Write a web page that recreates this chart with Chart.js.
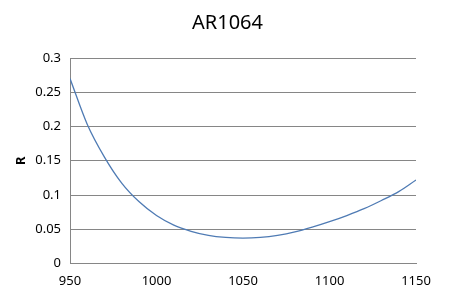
<!DOCTYPE html>
<html>
<head>
<meta charset="utf-8">
<script src="https://cdn.jsdelivr.net/npm/chart.js@4"></script>
<style>
  html, body { margin: 0; padding: 0; background: #ffffff; }
  #wrap { width: 455px; height: 307px; }
</style>
</head>
<body>
<div id="wrap"><canvas id="arChart" width="455" height="307"></canvas></div>
<script>
// Valeurs (longueur d'onde en nm, reflectance R)
const wavelengths = [950, 960, 970, 980, 990, 1000, 1010, 1020, 1030, 1040, 1050,
                     1060, 1070, 1080, 1090, 1100, 1110, 1120, 1130, 1140, 1150];
const reflectance = [0.270, 0.203, 0.155, 0.117, 0.090, 0.070, 0.056, 0.047, 0.041, 0.038, 0.037,
                     0.038, 0.041, 0.046, 0.053, 0.061, 0.070, 0.080, 0.092, 0.105, 0.122];
const xTickValues = [950, 1000, 1050, 1100, 1150];
const xTickLabels = ['950', '1000', '1050', '1100', '1150'];
const yTickValues = [0, 0.05, 0.1, 0.15, 0.2, 0.25, 0.3];
const yTickLabels = ['0', '0.05', '0.1', '0.15', '0.2', '0.25', '0.3'];

const points = wavelengths.map((w, i) => ({ x: w, y: reflectance[i] }));
const gridGray = '#868686';
const fontFamily = "'Noto Sans', 'Open Sans', sans-serif";

const ctx = document.getElementById('arChart').getContext('2d');
const arChart = new Chart(ctx, {
    type: 'line',
    data: {
        datasets: [{
            label: 'R',
            data: points,
            borderColor: '#4f7bb4',
            borderWidth: 1.3,
            pointRadius: 0,
            cubicInterpolationMode: 'monotone',
            fill: false
        }]
    },
    options: {
        responsive: false,
        animation: false,
        layout: { padding: 0 },
        plugins: {
            legend: { display: false },
            tooltip: { enabled: false },
            title: {
                display: true,
                text: 'AR1064',
                color: '#000000',
                font: { family: fontFamily, size: 20, weight: 'normal' },
                padding: { top: 11, bottom: 23 }
            }
        },
        scales: {
            x: {
                type: 'linear',
                min: 950,
                max: 1150,
                afterBuildTicks: scale => { scale.ticks = xTickValues.map(v => ({ value: v })); },
                afterFit: scale => { scale.height = 43.5; },
                grid: { display: false, drawTicks: false },
                border: { display: true, color: gridGray, width: 1 },
                ticks: {
                    color: '#000000',
                    padding: 10,
                    maxRotation: 0,
                    font: { family: fontFamily, size: 13 },
                    callback: value => {
                        const i = xTickValues.indexOf(value);
                        return i >= 0 ? xTickLabels[i] : '';
                    }
                }
            },
            y: {
                min: 0,
                max: 0.3,
                afterBuildTicks: scale => { scale.ticks = yTickValues.map(v => ({ value: v })); },
                afterFit: scale => { scale.width = 70; },
                grid: { color: gridGray, lineWidth: 1, drawTicks: false },
                border: { display: true, color: gridGray, width: 1 },
                ticks: {
                    color: '#000000',
                    padding: 9,
                    font: { family: fontFamily, size: 13 },
                    callback: value => {
                        const i = yTickValues.indexOf(value);
                        return i >= 0 ? yTickLabels[i] : '';
                    }
                },
                title: {
                    display: true,
                    text: 'R',
                    color: '#000000',
                    font: { family: fontFamily, size: 13, weight: 'bold' },
                    padding: { top: 13, bottom: 0 }
                }
            },
            // axe vide a droite, juste pour reserver la marge
            yRight: {
                position: 'right',
                min: 0,
                max: 0.3,
                afterFit: scale => { scale.width = 39; },
                grid: { display: false, drawTicks: false },
                border: { display: false },
                ticks: { display: false }
            }
        }
    }
});
</script>
</body>
</html>
